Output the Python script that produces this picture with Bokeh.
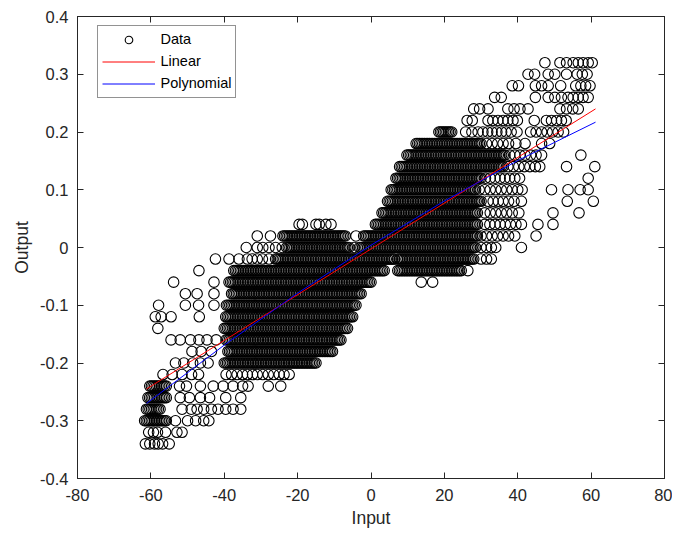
import numpy as np
from bokeh.plotting import figure
from bokeh.models import (ColumnDataSource, FixedTicker, LinearAxis, Legend,
                          LegendItem, Range1d)
from bokeh.embed import file_html
from bokeh.resources import INLINE

# ---------------- data ----------------
# dense runs of overlapping markers: (output level, input from, input to)
dense_rows = [
    (0.20, 18.5, 22.0),
    (0.18, 12.3, 30.0),
    (0.16, 9.8, 36.5),
    (0.14, 7.8, 36.0),
    (0.12, 6.8, 30.0),
    (0.10, 5.5, 28.5),
    (0.08, 4.5, 30.0),
    (0.06, 3.0, 29.0),
    (0.04, 1.2, 29.0),
    (0.02, -24.0, -7.0), (0.02, -2.0, 29.0),
    (0.00, -23.0, -6.0), (0.00, -3.2, 28.5),
    (-0.02, -26.0, 6.4), (-0.02, 7.3, 28.0),
    (-0.04, -37.4, 3.6), (-0.04, 7.3, 24.6),
    (-0.06, -38.7, 0.0),
    (-0.08, -38.0, -2.7),
    (-0.10, -39.4, -4.1),
    (-0.12, -39.6, -5.0),
    (-0.14, -40.0, -6.4),
    (-0.16, -39.5, -8.2),
    (-0.18, -39.0, -10.5),
    (-0.20, -40.0, -15.0),
    (-0.24, -60.3, -55.8),
    (-0.26, -60.8, -55.8),
    (-0.28, -61.2, -57.5),
    (-0.30, -61.7, -55.8),
]

# individual markers: (output level, [inputs])
sparse_rows = [
    (0.32, [47.4, 51.5, 53.3, 55.1, 56.5, 57.8, 59.2, 60.3]),
    (0.30, [42.8, 44.6, 48.3, 50.1, 53.3, 56.2, 57.6, 58.9]),
    (0.28, [38.5, 40.2, 44.8, 46.5, 48.3, 51.7, 55.8, 57.2, 58.5, 59.7]),
    (0.26, [33.7, 35.5, 44.8, 48.3, 50.1, 51.9, 53.7, 55.1, 56.5, 57.8, 59.2]),
    (0.24, [28.0, 29.6, 31.9, 37.3, 39.0, 40.6, 42.8, 51.5, 53.3, 55.0, 56.5]),
    (0.22, [26.2, 27.6, 31.9, 33.2, 34.6, 36.0, 37.3, 38.7, 39.9, 44.5, 47.8,
            49.2, 50.6, 51.9, 53.2]),
    (0.20, [25.8, 27.5, 29.2, 30.5, 31.8, 33.0, 34.3, 35.6, 36.8, 38.2, 39.8,
            43.5, 45.0, 46.5, 48.0, 49.5, 51.0, 52.5]),
    (0.18, [31.5, 33.0, 34.5, 36.0, 37.5, 39.5, 42.0, 46.5, 48.7]),
    (0.16, [37.8, 39.2, 40.6, 42.0, 43.5, 45.0, 46.5, 57.2]),
    (0.14, [37.3, 38.8, 40.3, 41.8, 43.3, 44.8, 46.0, 53.3, 61.0]),
    (0.12, [31.2, 32.5, 33.8, 35.2, 36.5, 37.8, 39.2, 40.5, 59.2]),
    (0.10, [29.5, 31.0, 32.5, 34.0, 35.5, 37.0, 38.5, 40.0, 41.2, 49.2, 53.7,
            57.0, 59.2]),
    (0.08, [31.9, 33.3, 34.7, 36.0, 37.5, 39.0, 41.0, 53.5, 60.6]),
    (0.06, [31.0, 32.5, 34.0, 35.5, 37.0, 38.5, 40.3, 49.6, 56.7]),
    (0.04, [-19.6, -18.7, -15.0, -14.1, -12.3, -10.9, 31.0, 32.4, 33.8, 35.2,
            36.6, 38.0, 39.5, 41.0, 45.5, 49.6]),
    (0.02, [-31.0, -27.4, -4.1, 30.0, 31.5, 33.0, 34.5, 36.0, 37.5, 39.2, 45.0]),
    (0.00, [-34.0, -31.0, -29.5, -27.8, -26.0, -24.2, -4.6, 30.0, 31.5, 32.8,
            34.0, 41.0]),
    (-0.02, [-42.4, -38.7, -36.0, -33.7, -32.4, -31.0, -29.6, -27.8, 30.0,
             31.5, 32.8]),
    (-0.04, [-46.9, 26.4]),
    (-0.06, [-53.8, -42.8, 13.7, 16.8]),
    (-0.08, [-50.6, -47.4, -42.8]),
    (-0.10, [-57.9, -50.6, -47.0, -42.8]),
    (-0.12, [-58.8, -57.2, -54.5, -46.8]),
    (-0.14, [-58.1]),
    (-0.16, [-54.5, -52.0, -49.2, -46.9, -44.7, -42.2]),
    (-0.18, [-48.8, -46.3, -43.5]),
    (-0.20, [-53.3, -51.0, -48.6, -46.5, -44.4]),
    (-0.22, [-56.7, -54.2, -51.5, -48.9, -47.0, -39.5, -38.0, -36.5, -35.0,
             -33.7, -32.3, -31.0, -29.5, -28.0, -26.5, -25.0, -23.7, -22.3]),
    (-0.24, [-52.2, -50.3, -46.5, -43.0, -40.3, -37.6, -35.0, -33.5, -28.0,
             -24.6]),
    (-0.26, [-52.0, -49.5, -46.5, -44.0, -39.6, -35.5]),
    (-0.28, [-51.5, -49.0, -47.4, -45.6, -43.5, -41.7, -39.6, -37.6, -35.5]),
    (-0.30, [-53.3, -50.0, -47.8, -45.6, -44.2]),
    (-0.32, [-60.6, -59.3, -58.2, -56.0, -52.9, -51.5]),
    (-0.34, [-61.5, -60.3, -59.0, -58.0, -56.8, -55.0]),
]

linear_x = [-61.2, 61.2]
linear_y = [-0.245, 0.240]

poly_x = [-61.2, -40.0, -20.0, 0.0, 20.0, 40.0, 61.2]
poly_y = [-0.270, -0.169, -0.079, 0.004, 0.0805, 0.1505, 0.217]

x_ticks = [-80, -60, -40, -20, 0, 20, 40, 60, 80]
x_tick_labels = ["-80", "-60", "-40", "-20", "0", "20", "40", "60", "80"]
y_ticks = [-0.4, -0.3, -0.2, -0.1, 0.0, 0.1, 0.2, 0.3, 0.4]
y_tick_labels = ["-0.4", "-0.3", "-0.2", "-0.1", "0", "0.1", "0.2", "0.3", "0.4"]

# ---------------- build scatter source ----------------
px, py = [], []
STEP = 0.45
for yv, x0, x1 in dense_rows:
    n = int(round((x1 - x0) / STEP)) + 1
    for xv in np.linspace(x0, x1, n):
        px.append(float(xv))
        py.append(yv)
for yv, pts in sparse_rows:
    for xv in pts:
        px.append(xv)
        py.append(yv)
src = ColumnDataSource(dict(x=px, y=py))

FONT = "Liberation Sans"
AX = "#262626"

p = figure(frame_width=587, frame_height=462,
           x_range=Range1d(-80, 80), y_range=Range1d(-0.4, 0.4),
           output_backend="svg", toolbar_location=None,
           min_border_left=77, min_border_top=16, min_border_right=8,
           min_border_bottom=30)
p.xgrid.visible = False
p.ygrid.visible = False
p.outline_line_color = AX
p.outline_line_width = 1
p.background_fill_color = "white"
p.border_fill_color = "white"

r_data = p.scatter("x", "y", source=src, marker="circle", size=10.5,
                   fill_color=None, line_color="black", line_width=1.1)
r_lin = p.line(linear_x, linear_y, line_color="#ff0000", line_width=1)
r_poly = p.line(poly_x, poly_y, line_color="#0000ff", line_width=1)

for ax, ticks, labels in ((p.xaxis[0], x_ticks, x_tick_labels),
                          (p.yaxis[0], y_ticks, y_tick_labels)):
    ax.ticker = FixedTicker(ticks=ticks)
    ax.major_label_overrides = {t: l for t, l in zip(ticks, labels)}
    ax.major_tick_in = 6
    ax.major_tick_out = 0
    ax.minor_tick_line_color = None
    ax.axis_line_color = AX
    ax.major_tick_line_color = AX
    ax.major_label_text_font = FONT
    ax.major_label_text_font_size = "16.5px"
    ax.major_label_text_color = AX
    ax.axis_label_text_font = FONT
    ax.axis_label_text_font_size = "17.5px"
    ax.axis_label_text_font_style = "normal"
    ax.axis_label_text_color = AX

p.xaxis.axis_label = "Input"
p.yaxis.axis_label = "Output"
p.xaxis.major_label_standoff = 10
p.xaxis.axis_label_standoff = 4
p.yaxis.major_label_standoff = 9
p.yaxis.axis_label_standoff = 5

# mirrored tick marks on the top and right edges (box on)
for loc, ticks in (("right", y_ticks), ("above", x_ticks)):
    a = LinearAxis(ticker=FixedTicker(ticks=ticks))
    a.major_label_overrides = {t: "" for t in ticks}
    a.major_label_text_font_size = "0px"
    a.major_label_standoff = 0
    a.major_tick_in = 6
    a.major_tick_out = 0
    a.minor_tick_line_color = None
    a.axis_line_color = AX
    a.major_tick_line_color = AX
    p.add_layout(a, loc)

legend = Legend(items=[LegendItem(label="Data", renderers=[r_data]),
                       LegendItem(label="Linear", renderers=[r_lin]),
                       LegendItem(label="Polynomial", renderers=[r_poly])],
                location=(19.5, 380.5))
legend.label_text_font = FONT
legend.label_text_font_size = "14.5px"
legend.label_text_color = "black"
legend.glyph_width = 53
legend.glyph_height = 19
legend.spacing = 3
legend.padding = 4
legend.margin = 0
legend.label_standoff = 6
legend.border_line_color = AX
legend.border_line_width = 1
legend.background_fill_color = "white"
legend.background_fill_alpha = 1
p.add_layout(legend)

open("out.html", "w").write(file_html(p, INLINE))
